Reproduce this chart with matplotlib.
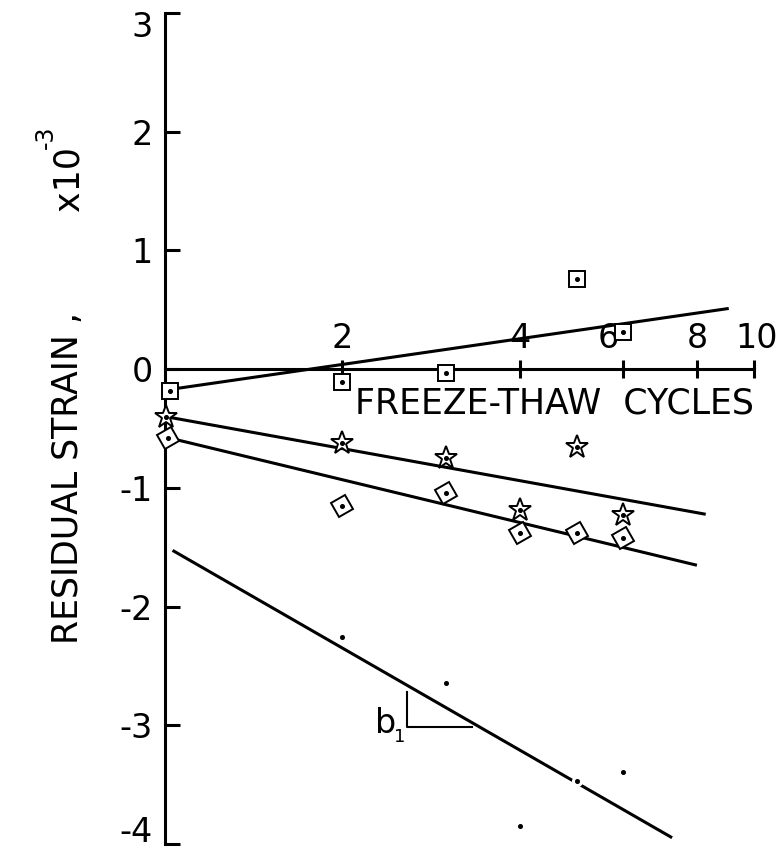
import matplotlib
matplotlib.use('Agg')
import matplotlib.pyplot as plt
from matplotlib.markers import MarkerStyle
from matplotlib.transforms import Affine2D, ScaledTranslation
from matplotlib.ticker import FixedLocator, FixedFormatter, NullLocator
import numpy as np

plt.rcParams['font.family'] = ['DejaVu Sans']
plt.rcParams['axes.unicode_minus'] = False

# residual strain (x 10^-3) against freeze-thaw cycles
sq_cycles = [1.02, 2, 3, 5, 6]
sq_strain = [-0.18, -0.11, -0.035, 0.756, 0.314]

star_cycles = [1.005, 2, 3, 4, 5, 6]
star_strain = [-0.40, -0.62, -0.75, -1.19, -0.66, -1.23]

dia_cycles = [1.01, 2, 3, 4, 5, 6]
dia_strain = [-0.58, -1.15, -1.04, -1.38, -1.38, -1.42]

dot_cycles = [2, 3, 4, 5, 6]
dot_strain = [-2.26, -2.64, -3.85, -3.47, -3.39]

# fitted lines: strain = a + b*log10(N), drawn between N_start and N_end
fit_sq = (-0.177, 0.719, 1.0, 9.06)
fit_star = (-0.399, -0.897, 1.0, 8.28)
fit_dia = (-0.571, -1.197, 1.0, 8.0)
fit_dot = (-1.49, -2.854, 1.03, 7.26)

x_ticks = [2, 4, 6, 8, 10]
x_ticklabels = ['2', '4', '6', '8', '10']
y_ticks = [3, 2, 1, 0, -1, -2, -3, -4]
y_ticklabels = ['3', '2', '1', '0', '-1', '-2', '-3', '-4']

fig = plt.figure(figsize=(7.82, 8.5), dpi=100)
ax = fig.add_axes([165 / 782, 6 / 850, 589 / 782, 831 / 850])

ax.set_xscale('log')
ax.set_xlim(1, 10)
ax.set_ylim(-4, 3)

lw = 2.2
for a, b, n0, n1 in [fit_sq, fit_star, fit_dia, fit_dot]:
    n = np.array([n0, n1])
    ax.plot(n, a + b * np.log10(n), color='black', lw=lw, solid_capstyle='butt')

tilted = MarkerStyle('s', transform=Affine2D().rotate_deg(30))
ax.plot(sq_cycles, sq_strain, ls='none', marker='s', ms=11.5, mfc='white',
        mec='black', mew=1.4, clip_on=False, zorder=3)
ax.plot(dia_cycles, dia_strain, ls='none', marker=tilted, ms=11.5, mfc='white',
        mec='black', mew=1.4, clip_on=False, zorder=3)
ax.plot(star_cycles, star_strain, ls='none', marker='*', ms=17, mfc='white',
        mec='black', mew=1.4, clip_on=False, zorder=3)
ax.plot(dot_cycles, dot_strain, ls='none', marker='o', ms=8, mfc='white',
        mec='none', zorder=3)
for xs, ys in [(sq_cycles, sq_strain), (dia_cycles, dia_strain),
               (star_cycles, star_strain), (dot_cycles, dot_strain)]:
    ax.plot(xs, ys, ls='none', marker='o', ms=2.6, color='black',
            clip_on=False, zorder=4)

# axes: y axis on the left, x axis running along strain = 0
for side in ['right', 'bottom']:
    ax.spines[side].set_visible(False)
ax.spines['left'].set_linewidth(lw)
ax.spines['top'].set_position(('data', 0))
ax.spines['top'].set_linewidth(lw)
ax.spines['top'].set_zorder(2)

ax.xaxis.set_ticks_position('top')
ax.xaxis.set_major_locator(FixedLocator(x_ticks))
ax.xaxis.set_major_formatter(FixedFormatter(x_ticklabels))
ax.xaxis.set_minor_locator(NullLocator())
ax.tick_params(axis='x', direction='inout', length=13, width=lw, pad=4,
               labelsize=24)

ax.set_yticks(y_ticks)
ax.set_yticklabels(y_ticklabels)
ax.tick_params(axis='y', direction='in', length=11, width=lw, pad=9,
               labelsize=24)

# nudge a few tick labels off the marks and edges
fig.canvas.draw()
def nudge(label, dx_px, dy_px):
    label.set_transform(label.get_transform() +
                        ScaledTranslation(dx_px / 100, dy_px / 100, fig.dpi_scale_trans))

xlabs = ax.get_xticklabels()
nudge(xlabs[2], -15, 0)
nudge(xlabs[4], 3, 0)
ylabs = ax.get_yticklabels()
nudge(ylabs[0], 0, -11)
nudge(ylabs[-1], 0, 15)

ax.text(2.1, -0.15, 'FREEZE-THAW  CYCLES', ha='left', va='top', fontsize=25)

# slope triangle with b1
ax.plot([2.573, 2.573, 3.317], [-2.719, -3.013, -3.013], color='black', lw=1.5)
ax.text(2.27, -3.067, 'b', ha='left', va='baseline', fontsize=24)
ax.text(2.45, -3.14, '1', ha='left', va='baseline', fontsize=13)

fig.text(68 / 782, 0.438, 'RESIDUAL STRAIN ,', rotation=90, ha='center',
         va='center', fontsize=25)
fig.text(68 / 782, 0.79, 'x10', rotation=90, ha='center', va='center',
         fontsize=25)
fig.text(46 / 782, 0.838, '-3', rotation=90, ha='center', va='center',
         fontsize=17)

fig.savefig('out.png', dpi=100)
